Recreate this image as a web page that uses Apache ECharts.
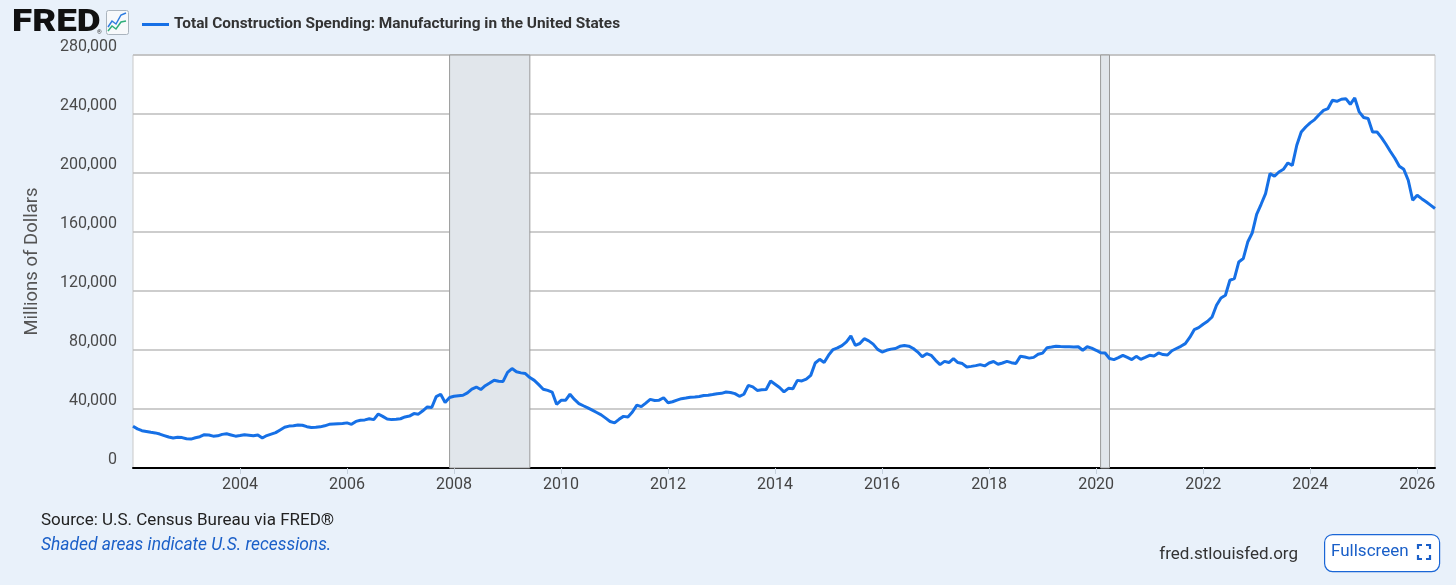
<!DOCTYPE html>
<html>
<head>
<meta charset="utf-8">
<script src="https://cdn.jsdelivr.net/npm/echarts@6/dist/echarts.min.js"></script>
<style>
html,body{margin:0;padding:0;background:#e9f1fa;}
#c{width:1456px;height:585px;}
</style>
</head>
<body>
<div id="c"></div>
<script>
// Monthly values, thousands of millions of dollars (SAAR), Jan..Dec of each year
const firstYear = 2002;
const v2002 = [28.3, 26.5, 25.3, 24.8, 24.2, 23.8, 23.0, 22.0, 21.0, 20.3, 20.8, 20.6];
const v2003 = [19.8, 19.6, 20.5, 21.2, 22.6, 22.4, 21.6, 21.8, 22.8, 23.2, 22.4, 21.6];
const v2004 = [22.0, 22.6, 22.2, 21.8, 22.4, 20.3, 22.0, 23.0, 24.0, 25.8, 27.6, 28.4];
const v2005 = [28.6, 29.2, 29.0, 28.0, 27.4, 27.6, 27.9, 28.6, 29.6, 29.8, 30.0, 30.2];
const v2006 = [30.6, 29.6, 31.6, 32.4, 32.6, 33.4, 32.8, 36.6, 35.0, 33.2, 32.8, 33.0];
const v2007 = [33.4, 34.6, 35.2, 36.9, 36.5, 38.8, 41.4, 41.0, 48.4, 50.0, 44.4, 47.8];
const v2008 = [48.6, 49.0, 49.3, 50.9, 53.5, 54.9, 53.2, 55.8, 57.6, 59.5, 58.8, 58.7];
const v2009 = [64.8, 67.4, 65.2, 64.5, 64.0, 61.3, 59.4, 56.5, 53.4, 52.6, 51.5, 43.2];
const v2010 = [45.9, 45.9, 50.0, 46.5, 43.7, 42.2, 40.8, 39.2, 37.6, 36.0, 33.8, 31.5];
const v2011 = [30.6, 33.0, 35.0, 34.6, 38.0, 42.6, 41.6, 44.0, 46.5, 45.8, 46.0, 47.6];
const v2012 = [44.2, 44.9, 46.0, 47.0, 47.4, 48.0, 48.1, 48.5, 49.2, 49.3, 49.8, 50.4];
const v2013 = [50.6, 51.5, 51.2, 50.4, 48.6, 50.0, 56.0, 55.0, 52.6, 53.0, 53.2, 59.0];
const v2014 = [56.8, 54.6, 51.6, 54.0, 53.7, 59.4, 59.0, 60.2, 62.8, 71.2, 73.7, 71.5];
const v2015 = [76.5, 80.3, 81.4, 83.0, 85.5, 89.5, 83.2, 84.4, 87.7, 86.2, 84.0, 80.4];
const v2016 = [78.6, 79.8, 80.6, 81.0, 82.5, 83.0, 82.6, 81.0, 78.6, 75.4, 77.5, 76.4];
const v2017 = [73.0, 70.1, 72.3, 71.5, 74.2, 71.5, 70.8, 68.5, 68.9, 69.4, 70.1, 69.2];
const v2018 = [71.2, 72.2, 70.3, 71.2, 72.3, 71.4, 70.8, 75.7, 75.2, 74.5, 75.0, 77.1];
const v2019 = [77.9, 81.6, 82.0, 82.5, 82.3, 82.2, 82.2, 82.0, 82.2, 79.8, 82.2, 81.3];
const v2020 = [79.8, 78.2, 78.0, 74.2, 73.5, 74.8, 76.4, 75.0, 73.5, 75.7, 73.7, 75.0];
const v2021 = [76.4, 76.0, 78.0, 76.9, 76.6, 79.5, 81.0, 82.5, 84.3, 88.5, 93.8, 95.2];
const v2022 = [97.5, 99.5, 102.4, 110.3, 115.3, 117.1, 127.3, 128.4, 139.7, 142.0, 153.2, 159.3];
const v2023 = [172.0, 178.8, 186.0, 199.6, 197.8, 200.7, 202.5, 206.8, 205.2, 218.8, 227.8, 231.2];
const v2024 = [234.0, 236.2, 239.5, 242.5, 243.7, 249.3, 248.6, 250.0, 250.4, 246.6, 250.9, 241.4];
const v2025 = [237.6, 236.9, 227.8, 227.8, 224.0, 219.5, 214.6, 210.0, 204.6, 202.5, 195.1, 181.5];
const v2026 = [184.9, 182.6, 180.5, 178.2, 175.9];

const yearly = [v2002, v2003, v2004, v2005, v2006, v2007, v2008, v2009, v2010, v2011, v2012, v2013,
  v2014, v2015, v2016, v2017, v2018, v2019, v2020, v2021, v2022, v2023, v2024, v2025, v2026];

// recessions: [startYear, startMonth(1-12), endYear, endMonth]
const recessions = [[2007, 12, 2009, 6], [2020, 2, 2020, 4]];
const xTickYears = [2004, 2006, 2008, 2010, 2012, 2014, 2016, 2018, 2020, 2022, 2024, 2026];
const yTicks = [0, 40000, 80000, 120000, 160000, 200000, 240000, 280000];

const seriesName = 'Total Construction Spending: Manufacturing in the United States';

const data = [];
yearly.forEach((arr, yi) => {
  arr.forEach((v, mi) => {
    data.push([firstYear + yi + mi / 12, Math.round(v * 1000)]);
  });
});
const lastX = data[data.length - 1][0];

const chart = echarts.init(document.getElementById('c'));
const font = 'Roboto, "Noto Sans", sans-serif';
const blue = '#1670e6';
const linkBlue = '#1a5fc8';

chart.setOption({
  backgroundColor: '#e9f1fa',
  animation: false,
  textStyle: { fontFamily: font },
  grid: { left: 133, right: 21, top: 55, bottom: 117, show: true, backgroundColor: '#ffffff', borderColor: '#c9c9c9', borderWidth: 1 },
  legend: {
    left: 137, top: 12, icon: 'rect', itemWidth: 27, itemHeight: 3, itemGap: 8,
    textStyle: { fontFamily: font, fontWeight: 'bold', fontSize: 15.4, color: '#333' },
    data: [seriesName], selectedMode: false
  },
  xAxis: {
    type: 'value', min: firstYear, max: lastX,
    axisLine: { show: true, lineStyle: { color: '#000', width: 2 } },
    axisTick: { show: true, customValues: xTickYears, length: 6, lineStyle: { color: '#c5d0dc', width: 1 } },
    axisLabel: { customValues: xTickYears, color: '#444', fontSize: 16, margin: 9, formatter: v => String(Math.round(v)) },
    splitLine: { show: false }
  },
  yAxis: {
    type: 'value', min: 0, max: 280000, interval: 40000,
    name: 'Millions of Dollars', nameLocation: 'middle', nameGap: 91, nameRotate: 90,
    nameTextStyle: { fontSize: 18.5, color: '#555', fontFamily: font },
    axisLine: { show: false }, axisTick: { show: false },
    axisLabel: { customValues: yTicks, color: '#4a4a4a', fontSize: 16, margin: 16, verticalAlign: 'bottom',
      formatter: v => v.toLocaleString('en-US') },
    splitLine: { lineStyle: { color: '#bdbdbd', width: 1.5 } }
  },
  series: [{
    name: seriesName, type: 'line', data: data, showSymbol: false, symbol: 'none',
    lineStyle: { color: blue, width: 3 }, itemStyle: { color: blue },
    z: 5,
    markArea: {
      silent: true,
      itemStyle: { color: '#e1e6eb', borderColor: '#9a9a9a', borderWidth: 1 },
      data: recessions.map(r => [{ xAxis: r[0] + (r[1] - 1) / 12 }, { xAxis: r[2] + (r[3] - 1) / 12 }])
    }
  }],
  graphic: [
    { type: 'text', x: 12, y: 7, scaleX: 1.15, style: { text: 'FRED', font: '900 32px Roboto', fill: '#111' } },
    { type: 'text', left: 97, top: 29, style: { text: '®', font: '6px Roboto', fill: '#333' } },
    { type: 'rect', left: 106, top: 10, shape: { width: 22, height: 24, r: 2 }, style: { fill: '#f7f9fb', stroke: '#aab4be', lineWidth: 1 } },
    { type: 'polyline', shape: { points: [[108, 27], [112, 21], [116, 24], [121, 15], [126, 13]] }, style: { stroke: '#2d7be0', lineWidth: 1.5, fill: null } },
    { type: 'polyline', shape: { points: [[108, 31], [112, 26], [116, 29], [121, 22], [126, 21]] }, style: { stroke: '#2fae7a', lineWidth: 1.5, fill: null } },
    { type: 'text', left: 41, top: 512, style: { text: 'Source: U.S. Census Bureau via FRED®', font: '17px Roboto', fill: '#222' } },
    { type: 'text', left: 41, top: 537, style: { text: 'Shaded areas indicate U.S. recessions.', font: 'italic 17.4px Roboto', fill: linkBlue } },
    { type: 'text', right: 158, top: 546, style: { text: 'fred.stlouisfed.org', font: '17px Roboto', fill: '#333' } },
    { type: 'rect', left: 1324, top: 534, shape: { width: 115, height: 37, r: 8 }, style: { fill: '#ffffff', stroke: '#1a66d6', lineWidth: 1.2 } },
    { type: 'text', left: 1331, top: 543, style: { text: 'Fullscreen', font: '17px Roboto', fill: linkBlue } },
    { type: 'polyline', shape: { points: [[1418, 549], [1418, 545], [1422, 545]] }, style: { stroke: linkBlue, lineWidth: 2.2, fill: null } },
    { type: 'polyline', shape: { points: [[1426, 545], [1430, 545], [1430, 549]] }, style: { stroke: linkBlue, lineWidth: 2.2, fill: null } },
    { type: 'polyline', shape: { points: [[1418, 555], [1418, 559], [1422, 559]] }, style: { stroke: linkBlue, lineWidth: 2.2, fill: null } },
    { type: 'polyline', shape: { points: [[1426, 559], [1430, 559], [1430, 555]] }, style: { stroke: linkBlue, lineWidth: 2.2, fill: null } }
  ]
});
</script>
</body>
</html>
